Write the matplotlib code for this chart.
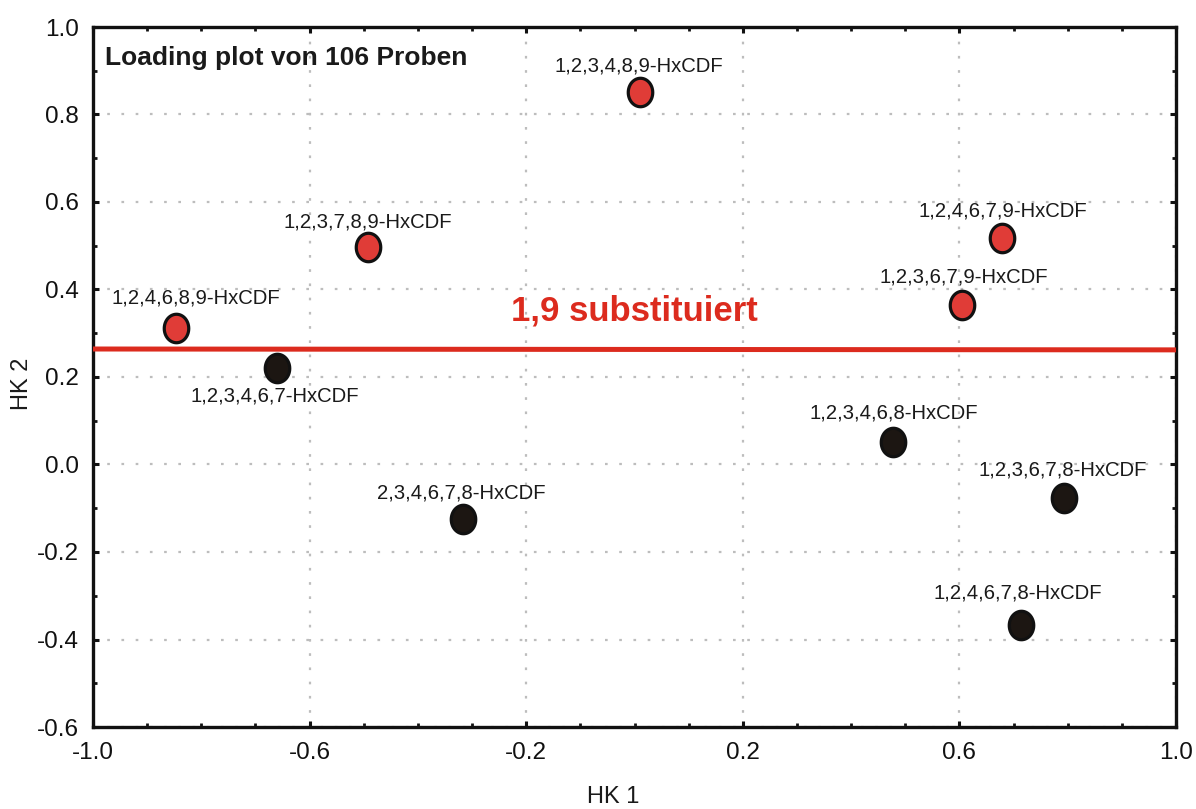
import numpy as np
import matplotlib
matplotlib.use("Agg")
import matplotlib.pyplot as plt
from matplotlib.path import Path
from matplotlib.ticker import MultipleLocator

plt.rcParams['font.family'] = ['Liberation Sans', 'DejaVu Sans']

# Loadings of the ten HxCDF congeners on the first two principal components
congeners = [
    "1,2,3,4,8,9-HxCDF", "1,2,3,7,8,9-HxCDF", "1,2,4,6,8,9-HxCDF",
    "1,2,4,6,7,9-HxCDF", "1,2,3,6,7,9-HxCDF",
    "1,2,3,4,6,7-HxCDF", "2,3,4,6,7,8-HxCDF", "1,2,3,4,6,8-HxCDF",
    "1,2,3,6,7,8-HxCDF", "1,2,4,6,7,8-HxCDF",
]
hk1 = [0.010, -0.492, -0.847, 0.679, 0.605, -0.661, -0.317, 0.478, 0.794, 0.713]
hk2 = [0.852, 0.496, 0.311, 0.517, 0.365, 0.221, -0.125, 0.052, -0.077, -0.367]
substituted_19 = [True, True, True, True, True, False, False, False, False, False]

# Separating line between 1,9-substituted and other congeners
sep_x = [-1.0, 1.0]
sep_y = [0.264, 0.262]

x_ticks = [-1.0, -0.6, -0.2, 0.2, 0.6, 1.0]
y_ticks = [-0.6, -0.4, -0.2, 0.0, 0.2, 0.4, 0.6, 0.8, 1.0]

# label offsets in pixels relative to each marker
label_offsets = [(-1.5, 26), (0, 26), (20, 30), (1, 27), (2, 28),
                 (-2, -28), (-1.5, 26), (0, 29), (-2, 28), (-2.5, 32)]

fig = plt.figure(figsize=(11.96, 8.09), dpi=100)
ax = fig.add_axes([93 / 1196, 1 - 727 / 809, 1083 / 1196, 700 / 809])

ax.set_xlim(-1.0, 1.0)
ax.set_ylim(-0.6, 1.0)

# dotted grid at the major ticks
ax.xaxis.set_major_locator(MultipleLocator(0.4))
ax.xaxis.set_minor_locator(MultipleLocator(0.1))
ax.yaxis.set_major_locator(MultipleLocator(0.2))
ax.yaxis.set_minor_locator(MultipleLocator(0.1))
ax.set_xticks(x_ticks)
ax.set_yticks(y_ticks)
ax.set_xticklabels([f"{v:.1f}" for v in x_ticks])
ax.set_yticklabels([f"{v:.1f}" for v in y_ticks])
ax.grid(True, which='major', color='#bdbdbd', linestyle=(0, (1.2, 5.2)),
        linewidth=1.6)
ax.set_axisbelow(True)

ax.tick_params(which='both', direction='in', top=True, right=True,
               colors='#111111', labelcolor='#111111')
ax.tick_params(which='major', length=4, width=2.2, labelsize=17.5, pad=11)
ax.tick_params(which='minor', length=3, width=2.0)
ax.tick_params(axis='y', which='major', pad=10)
for sp in ax.spines.values():
    sp.set_linewidth(2.4)
    sp.set_color('#111111')

# separating line
ax.plot(sep_x, sep_y, color='#dc2b1e', linewidth=3.6, zorder=3,
        solid_capstyle='butt', clip_on=False)

# slightly tall elliptical marker
t = np.linspace(0, 2 * np.pi, 60)
ellipse = Path(np.column_stack([0.86 * np.cos(t), np.sin(t)]), closed=True)

for name, x, y, red, (dx, dy) in zip(congeners, hk1, hk2, substituted_19,
                                     label_offsets):
    ax.plot(x, y, linestyle='none', marker=ellipse, markersize=20.5,
            markerfacecolor='#e03c37' if red else '#1c1612',
            markeredgecolor='#111111', markeredgewidth=2.3, zorder=4)
    ax.annotate(name, (x, y), xytext=(dx, dy), textcoords='offset pixels',
                ha='center', va='center', fontsize=14.6, color='#1a1a1a',
                zorder=5)

ax.text(0.0, 0.329, "1,9 substituiert", ha='center', va='baseline',
        fontsize=25, fontweight='bold', color='#dc2b1e', zorder=5)

ax.text(0.0108, 0.9457, "Loading plot von 106 Proben", transform=ax.transAxes,
        ha='left', va='baseline', fontsize=19, fontweight='bold',
        color='#1a1a1a')

ax.set_xlabel("HK 1", fontsize=17, color='#1a1a1a', va='baseline')
ax.xaxis.set_label_coords(0.4806, -0.109)
ax.set_ylabel("HK 2", fontsize=17, color='#1a1a1a', va='center')
ax.yaxis.set_label_coords(-0.0656, 0.49)

fig.savefig("out.png", dpi=100, facecolor='white')
